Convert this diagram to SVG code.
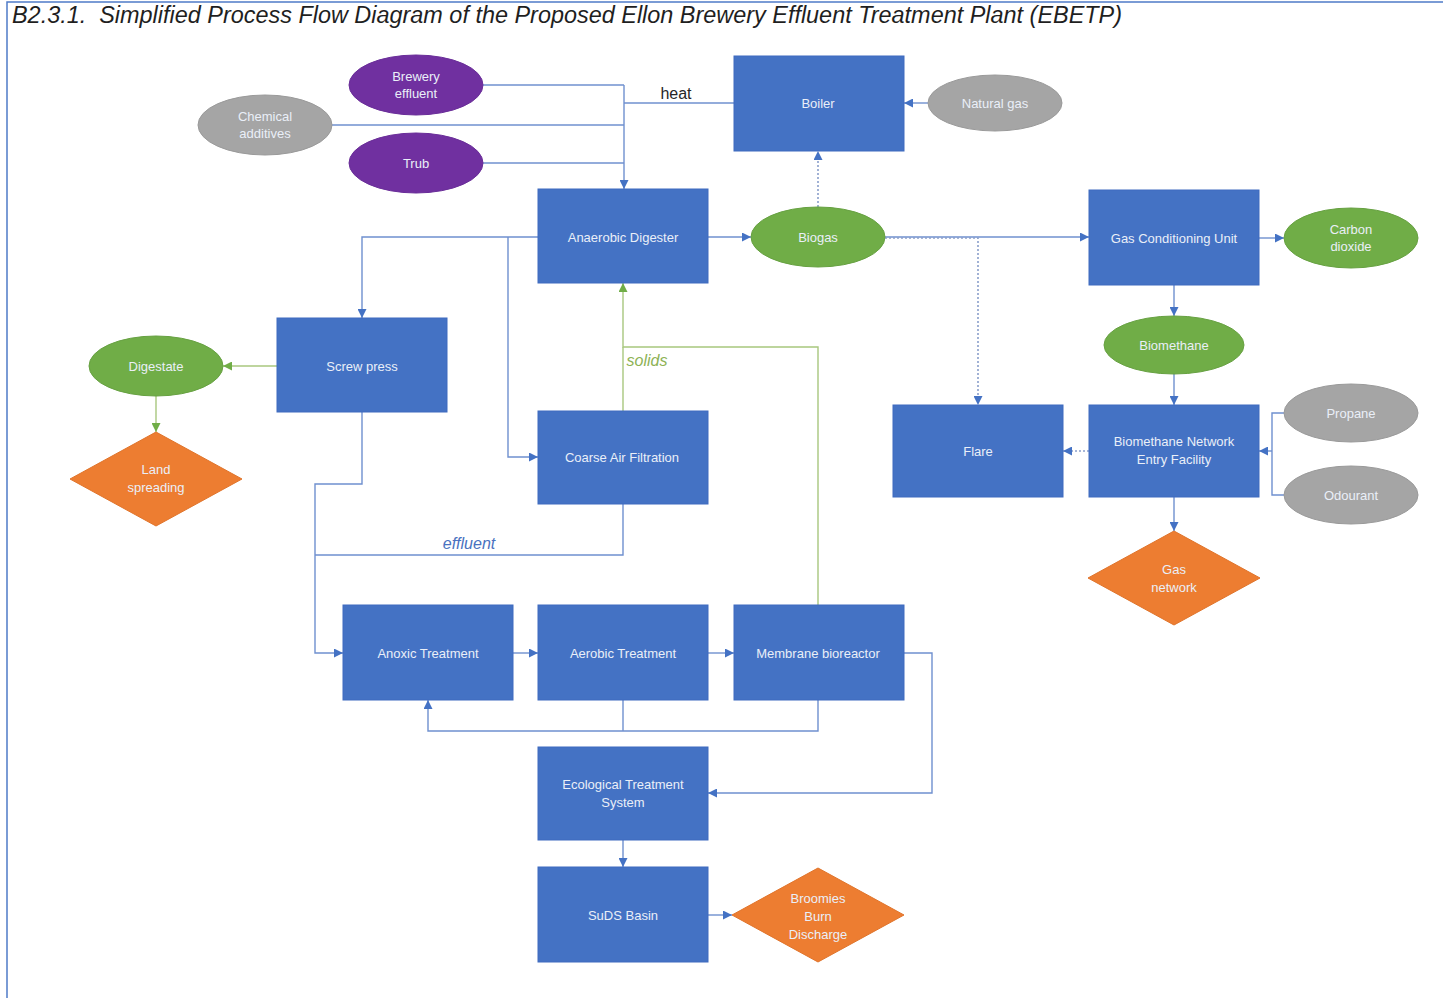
<svg xmlns="http://www.w3.org/2000/svg" width="1443" height="998" viewBox="0 0 1443 998">
<style>
.box{fill:#4472C4;stroke:#3F6BBF;stroke-width:1}
.pur{fill:#7030A0;stroke:#6A2E99;stroke-width:1}
.gry{fill:#A5A5A5;stroke:#9A9A9A;stroke-width:1}
.grn{fill:#70AD47;stroke:#67A142;stroke-width:1}
.org{fill:#ED7D31;stroke:#E0742B;stroke-width:1}
.t{font-family:"Liberation Sans",Arial,sans-serif;font-size:13px;fill:#EAEFF8;text-anchor:middle}
.c{fill:none;stroke:#6F90CF;stroke-width:1.4}
.cg{fill:none;stroke:#A8C77E;stroke-width:1.4}
.d{fill:none;stroke:#8A9FCB;stroke-width:1.6;stroke-dasharray:2 2}
.lbl{font-family:"Liberation Sans",Arial,sans-serif;font-size:16px;text-anchor:middle}
</style>
<defs>
<marker id="a" viewBox="0 0 10 10" refX="10" refY="5" markerWidth="9" markerHeight="9" markerUnits="userSpaceOnUse" orient="auto"><path d="M0,0 L10,5 L0,10 z" fill="#4472C4"/></marker>
<marker id="ag" viewBox="0 0 10 10" refX="10" refY="5" markerWidth="9" markerHeight="9" markerUnits="userSpaceOnUse" orient="auto"><path d="M0,0 L10,5 L0,10 z" fill="#70AD47"/></marker>
</defs>
<rect x="0" y="0" width="1443" height="998" fill="#FFFFFF"/>
<path d="M7,998 V2 H1443" fill="none" stroke="#4F7BC8" stroke-width="1.5"/>
<text x="12" y="23" font-family="Liberation Sans,Arial,sans-serif" font-size="23" font-style="italic" fill="#1F1F1F" textLength="1110" lengthAdjust="spacingAndGlyphs">B2.3.1.&#160; Simplified Process Flow Diagram of the Proposed Ellon Brewery Effluent Treatment Plant (EBETP)</text>

<g id="connectors">
<path class="c" d="M483,85 H624"/>
<path class="c" d="M332,125 H624"/>
<path class="c" d="M483,163 H624"/>
<path class="c" d="M624,85 V189" marker-end="url(#a)"/>
<path class="c" d="M734,103 H624"/>
<path class="c" d="M928,103 H904" marker-end="url(#a)"/>
<path class="d" d="M818,207 V151" marker-end="url(#a)"/>
<path class="c" d="M708,237 H751" marker-end="url(#a)"/>
<path class="c" d="M885,237 H1089" marker-end="url(#a)"/>
<path class="d" d="M885,238 H978 V405" marker-end="url(#a)"/>
<path class="c" d="M1259,238 H1284" marker-end="url(#a)"/>
<path class="c" d="M1174,285 V316" marker-end="url(#a)"/>
<path class="c" d="M1174,374 V405" marker-end="url(#a)"/>
<path class="d" d="M1089,451 H1063" marker-end="url(#a)"/>
<path class="c" d="M1284,413 H1272 V495 H1284"/>
<path class="c" d="M1272,451 H1259" marker-end="url(#a)"/>
<path class="c" d="M1174,497 V531" marker-end="url(#a)"/>
<path class="c" d="M538,237 H362 V318" marker-end="url(#a)"/>
<path class="c" d="M508,237 V457 H538" marker-end="url(#a)"/>
<path class="cg" d="M277,366 H223" marker-end="url(#ag)"/>
<path class="cg" d="M156,396 V432" marker-end="url(#ag)"/>
<path class="c" d="M362,412 V484 H315 V653 H343" marker-end="url(#a)"/>
<path class="c" d="M623,504 V555 H315"/>
<path class="cg" d="M818,605 V347 H623 V283" marker-end="url(#ag)"/>
<path class="cg" d="M623,411 V347"/>
<path class="c" d="M513,653 H538" marker-end="url(#a)"/>
<path class="c" d="M708,653 H734" marker-end="url(#a)"/>
<path class="c" d="M623,700 V731"/>
<path class="c" d="M818,700 V731 H428 V700" marker-end="url(#a)"/>
<path class="c" d="M904,653 H932 V793 H708" marker-end="url(#a)"/>
<path class="c" d="M623,840 V867" marker-end="url(#a)"/>
<path class="c" d="M708,915 H732" marker-end="url(#a)"/>
<text class="lbl" x="676" y="99" fill="#262626">heat</text>
<text class="lbl" x="647" y="366" fill="#8DB255" font-style="italic">solids</text>
<text class="lbl" x="469" y="549" fill="#4A72C0" font-style="italic">effluent</text>
</g>

<g id="brewery-effluent"><ellipse class="pur" cx="416" cy="85" rx="67" ry="30"/><text class="t" x="416" y="81">Brewery</text><text class="t" x="416" y="98">effluent</text></g>
<g id="chemical-additives"><ellipse class="gry" cx="265" cy="125" rx="67" ry="30"/><text class="t" x="265" y="121">Chemical</text><text class="t" x="265" y="138">additives</text></g>
<g id="trub"><ellipse class="pur" cx="416" cy="163" rx="67" ry="30"/><text class="t" x="416" y="168">Trub</text></g>
<g id="boiler"><rect class="box" x="734" y="56" width="170" height="95"/><text class="t" x="818" y="108">Boiler</text></g>
<g id="natural-gas"><ellipse class="gry" cx="995" cy="103" rx="67" ry="28"/><text class="t" x="995" y="108">Natural gas</text></g>
<g id="anaerobic-digester"><rect class="box" x="538" y="189" width="170" height="94"/><text class="t" x="623" y="242">Anaerobic Digester</text></g>
<g id="biogas"><ellipse class="grn" cx="818" cy="237" rx="67" ry="30"/><text class="t" x="818" y="242">Biogas</text></g>
<g id="gas-conditioning-unit"><rect class="box" x="1089" y="190" width="170" height="95"/><text class="t" x="1174" y="243">Gas Conditioning Unit</text></g>
<g id="carbon-dioxide"><ellipse class="grn" cx="1351" cy="238" rx="67" ry="30"/><text class="t" x="1351" y="234">Carbon</text><text class="t" x="1351" y="251">dioxide</text></g>
<g id="biomethane"><ellipse class="grn" cx="1174" cy="345" rx="70" ry="29"/><text class="t" x="1174" y="350">Biomethane</text></g>
<g id="flare"><rect class="box" x="893" y="405" width="170" height="92"/><text class="t" x="978" y="456">Flare</text></g>
<g id="biomethane-network-entry-facility"><rect class="box" x="1089" y="405" width="170" height="92"/><text class="t" x="1174" y="446">Biomethane Network</text><text class="t" x="1174" y="464">Entry Facility</text></g>
<g id="propane"><ellipse class="gry" cx="1351" cy="413" rx="67" ry="29"/><text class="t" x="1351" y="418">Propane</text></g>
<g id="odourant"><ellipse class="gry" cx="1351" cy="495" rx="67" ry="29"/><text class="t" x="1351" y="500">Odourant</text></g>
<g id="gas-network"><polygon class="org" points="1174,531 1260,578 1174,625 1088,578"/><text class="t" x="1174" y="574">Gas</text><text class="t" x="1174" y="592">network</text></g>
<g id="screw-press"><rect class="box" x="277" y="318" width="170" height="94"/><text class="t" x="362" y="371">Screw press</text></g>
<g id="digestate"><ellipse class="grn" cx="156" cy="366" rx="67" ry="30"/><text class="t" x="156" y="371">Digestate</text></g>
<g id="land-spreading"><polygon class="org" points="156,432 242,479 156,526 70,479"/><text class="t" x="156" y="474">Land</text><text class="t" x="156" y="492">spreading</text></g>
<g id="coarse-air-filtration"><rect class="box" x="538" y="411" width="170" height="93"/><text class="t" x="622" y="462">Coarse Air Filtration</text></g>
<g id="anoxic-treatment"><rect class="box" x="343" y="605" width="170" height="95"/><text class="t" x="428" y="658">Anoxic Treatment</text></g>
<g id="aerobic-treatment"><rect class="box" x="538" y="605" width="170" height="95"/><text class="t" x="623" y="658">Aerobic Treatment</text></g>
<g id="membrane-bioreactor"><rect class="box" x="734" y="605" width="170" height="95"/><text class="t" x="818" y="658">Membrane bioreactor</text></g>
<g id="ecological-treatment-system"><rect class="box" x="538" y="747" width="170" height="93"/><text class="t" x="623" y="789">Ecological Treatment</text><text class="t" x="623" y="807">System</text></g>
<g id="suds-basin"><rect class="box" x="538" y="867" width="170" height="95"/><text class="t" x="623" y="920">SuDS Basin</text></g>
<g id="broomies-burn-discharge"><polygon class="org" points="818,868 904,915 818,962 732,915"/><text class="t" x="818" y="903">Broomies</text><text class="t" x="818" y="921">Burn</text><text class="t" x="818" y="939">Discharge</text></g>
</svg>
